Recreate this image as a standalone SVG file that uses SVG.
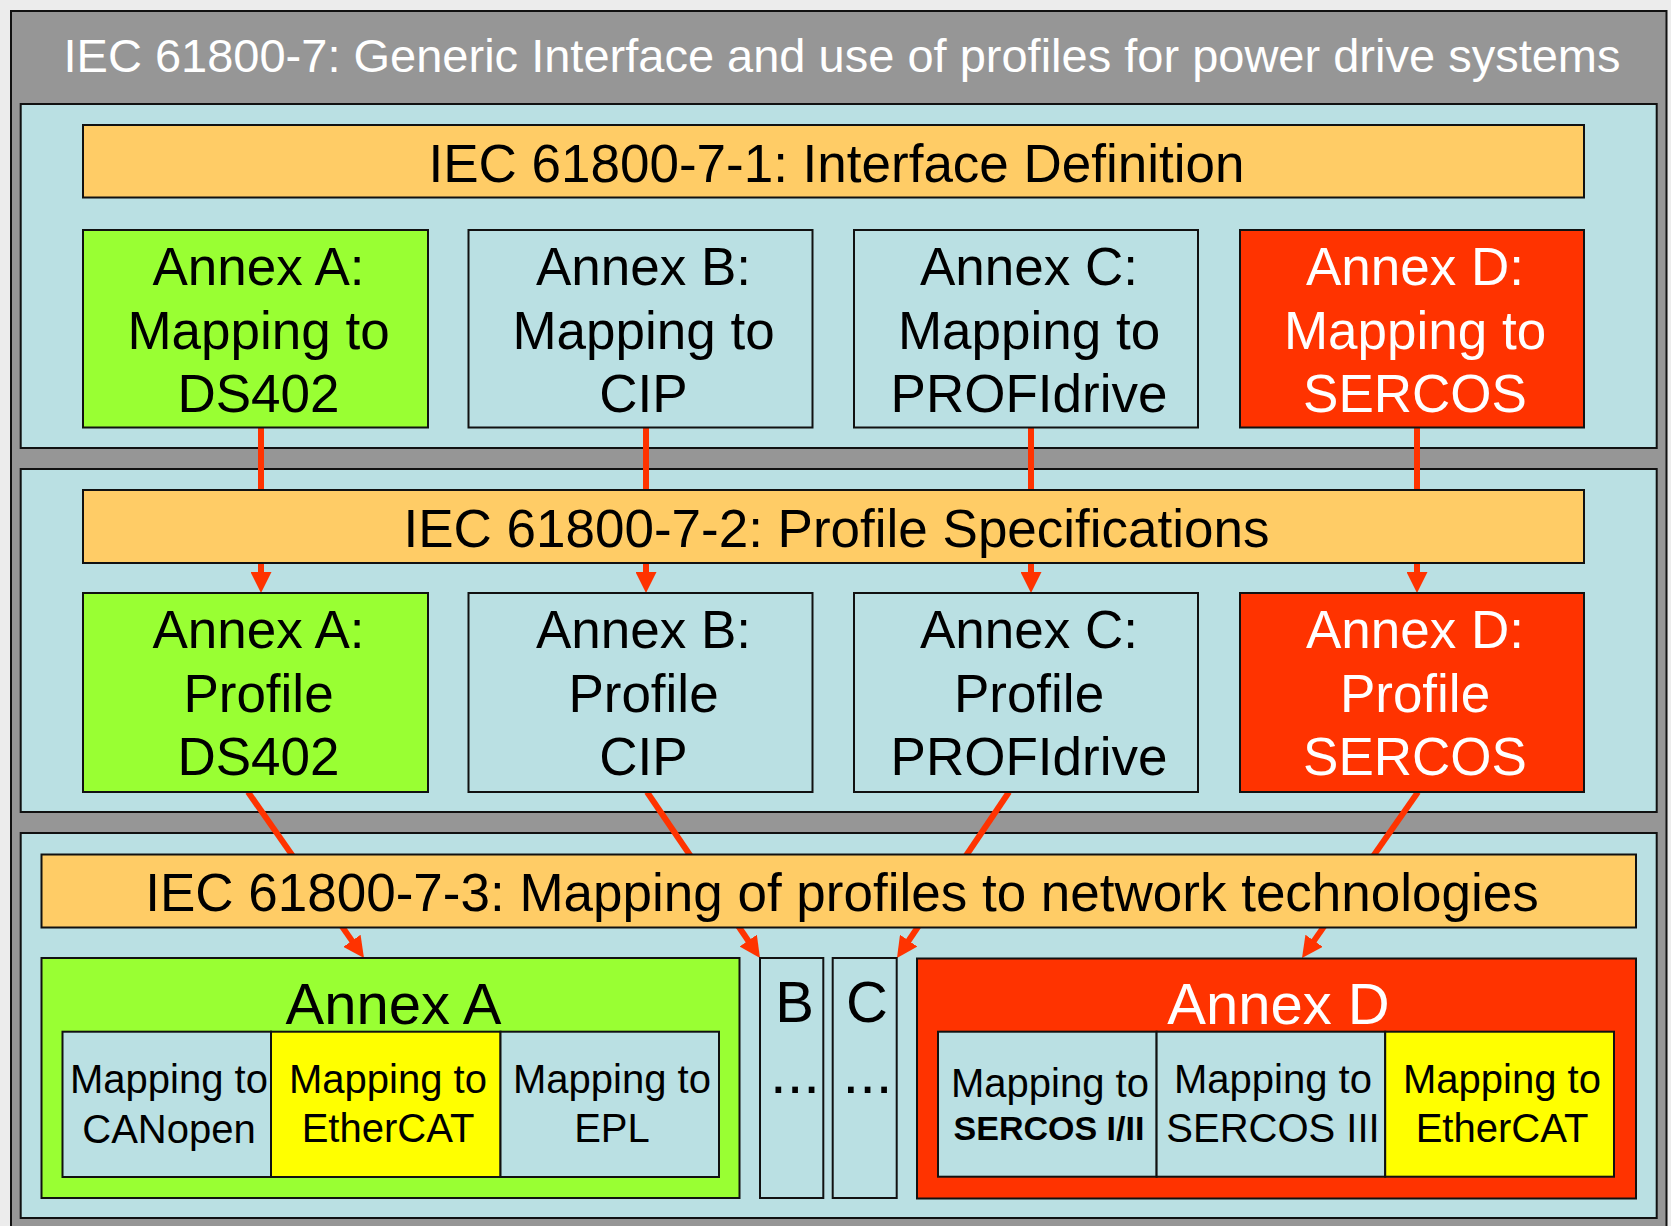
<svg xmlns="http://www.w3.org/2000/svg" width="1671" height="1226" viewBox="0 0 1671 1226">
<defs>
<style>
.bx{stroke:#111;stroke-width:2}
.gray{fill:#969696}
.panel{fill:#BAE0E3}
.orange{fill:#FFCC66}
.green{fill:#99FF33}
.red{fill:#FF3300}
.yellow{fill:#FFFF00}
.blue{fill:#BAE0E3}
text{font-family:"Liberation Sans",Arial,sans-serif;text-anchor:middle;fill:#000}
.title{font-size:47px;fill:#fff}
.hdr{font-size:53px}
.ann{font-size:53px}
.big{font-size:58px}
.dots{font-size:60px}
.cell{font-size:40px}
.bold{font-size:34px;font-weight:bold}
.w{fill:#fff}
.conn{stroke:#FF3300;stroke-width:6;fill:none;marker-end:url(#ah)}
</style>
<marker id="ah" markerUnits="userSpaceOnUse" markerWidth="21" markerHeight="21" refX="2" refY="10.5" orient="auto" viewBox="0 0 21 21">
<path d="M0,0 L21,10.5 L0,21 z" fill="#FF3300"/>
</marker>
</defs>
<rect x="0" y="0" width="1671" height="1226" fill="#ECECEC"/>
<g id="frame">
<rect class="bx gray" x="11" y="11" width="1655.5" height="1240"/>
<text class="title" x="842" y="72">IEC 61800-7: Generic Interface and use of profiles for power drive systems</text>
</g>
<g id="panel1"><rect class="bx panel" x="20.7" y="104" width="1636" height="344"/></g>
<g id="panel2"><rect class="bx panel" x="20.7" y="469" width="1636" height="343"/></g>
<g id="panel3"><rect class="bx panel" x="20.7" y="833" width="1636" height="385"/></g>
<g id="connectors">
<line class="conn" x1="261" y1="427" x2="261" y2="574"/>
<line class="conn" x1="646" y1="427" x2="646" y2="574"/>
<line class="conn" x1="1031" y1="427" x2="1031" y2="574"/>
<line class="conn" x1="1417" y1="427" x2="1417" y2="574"/>
<line class="conn" x1="248" y1="792" x2="353.1" y2="942.4"/>
<line class="conn" x1="647" y1="792" x2="749.3" y2="942.3"/>
<line class="conn" x1="1009" y1="792" x2="907.6" y2="942.3"/>
<line class="conn" x1="1418" y1="792" x2="1312.9" y2="942.4"/>
</g>
<g id="iec-7-1">
<rect class="bx orange" x="83" y="125" width="1501" height="72.5"/>
<text class="hdr" x="836.5" y="181.5">IEC 61800-7-1: Interface Definition</text>
</g>
<g id="map-a">
<rect class="bx green" x="83" y="230" width="345" height="197.5"/>
<text class="ann" x="258.5" y="284.5">Annex A:</text>
<text class="ann" x="258.5" y="348.5">Mapping to</text>
<text class="ann" x="258.5" y="411.5">DS402</text>
</g>
<g id="map-b">
<rect class="bx blue" x="468.5" y="230" width="344" height="197.5"/>
<text class="ann" x="643.5" y="284.5">Annex B:</text>
<text class="ann" x="643.5" y="348.5">Mapping to</text>
<text class="ann" x="643.5" y="411.5">CIP</text>
</g>
<g id="map-c">
<rect class="bx blue" x="854" y="230" width="344" height="197.5"/>
<text class="ann" x="1029" y="284.5">Annex C:</text>
<text class="ann" x="1029" y="348.5">Mapping to</text>
<text class="ann" x="1029" y="411.5">PROFIdrive</text>
</g>
<g id="map-d">
<rect class="bx red" x="1240" y="230" width="344" height="197.5"/>
<text class="ann w" x="1415" y="284.5">Annex D:</text>
<text class="ann w" x="1415" y="348.5">Mapping to</text>
<text class="ann w" x="1415" y="411.5">SERCOS</text>
</g>
<g id="iec-7-2">
<rect class="bx orange" x="83" y="490" width="1501" height="73"/>
<text class="hdr" x="836.5" y="546.5">IEC 61800-7-2: Profile Specifications</text>
</g>
<g id="prof-a">
<rect class="bx green" x="83" y="593" width="345" height="199"/>
<text class="ann" x="258.5" y="648">Annex A:</text>
<text class="ann" x="258.5" y="712">Profile</text>
<text class="ann" x="258.5" y="775">DS402</text>
</g>
<g id="prof-b">
<rect class="bx blue" x="468.5" y="593" width="344" height="199"/>
<text class="ann" x="643.5" y="648">Annex B:</text>
<text class="ann" x="643.5" y="712">Profile</text>
<text class="ann" x="643.5" y="775">CIP</text>
</g>
<g id="prof-c">
<rect class="bx blue" x="854" y="593" width="344" height="199"/>
<text class="ann" x="1029" y="648">Annex C:</text>
<text class="ann" x="1029" y="712">Profile</text>
<text class="ann" x="1029" y="775">PROFIdrive</text>
</g>
<g id="prof-d">
<rect class="bx red" x="1240" y="593" width="344" height="199"/>
<text class="ann w" x="1415" y="648">Annex D:</text>
<text class="ann w" x="1415" y="712">Profile</text>
<text class="ann w" x="1415" y="775">SERCOS</text>
</g>
<g id="iec-7-3">
<rect class="bx orange" x="41.5" y="854.5" width="1594.5" height="73"/>
<text class="hdr" x="842" y="911">IEC 61800-7-3: Mapping of profiles to network technologies</text>
</g>
<g id="net-a">
<rect class="bx green" x="41.5" y="958" width="698" height="240"/>
<text class="big" x="393.5" y="1024">Annex A</text>
<rect class="bx blue" x="62.5" y="1031.7" width="208.5" height="145.3"/>
<rect class="bx yellow" x="271" y="1031.7" width="229.5" height="145.3"/>
<rect class="bx blue" x="500.5" y="1031.7" width="218.5" height="145.3"/>
<text class="cell" x="169" y="1093.3">Mapping to</text>
<text class="cell" x="169" y="1142.5">CANopen</text>
<text class="cell" x="388" y="1093.3">Mapping to</text>
<text class="cell" x="388" y="1142">EtherCAT</text>
<text class="cell" x="612" y="1093.3">Mapping to</text>
<text class="cell" x="612" y="1142">EPL</text>
</g>
<g id="net-b">
<rect class="bx blue" x="760" y="958" width="63.3" height="240"/>
<text class="big" x="794.5" y="1021.7">B</text>
<text class="dots" x="795" y="1093.3">...</text>
</g>
<g id="net-c">
<rect class="bx blue" x="832.7" y="958" width="64" height="240"/>
<text class="big" x="867" y="1021.7">C</text>
<text class="dots" x="867.5" y="1093.3">...</text>
</g>
<g id="net-d">
<rect class="bx red" x="917" y="958.5" width="719" height="240"/>
<text class="big w" x="1278.5" y="1023.5">Annex D</text>
<rect class="bx blue" x="938" y="1031.7" width="218.6" height="145"/>
<rect class="bx blue" x="1156.6" y="1031.7" width="228.6" height="145"/>
<rect class="bx yellow" x="1385.2" y="1031.7" width="228.8" height="145"/>
<text class="cell" x="1050" y="1096.7">Mapping to</text>
<text class="bold" x="1049" y="1140">SERCOS I/II</text>
<text class="cell" x="1273" y="1093.3">Mapping to</text>
<text class="cell" x="1273" y="1141.7">SERCOS III</text>
<text class="cell" x="1502" y="1093.3">Mapping to</text>
<text class="cell" x="1502" y="1142">EtherCAT</text>
</g>
</svg>
